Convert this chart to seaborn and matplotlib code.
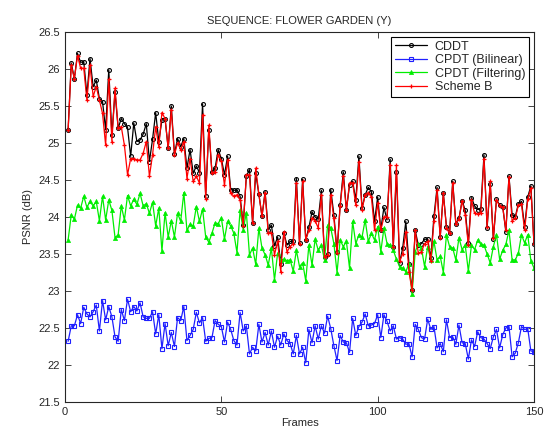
import numpy as np
import pandas as pd
import matplotlib
matplotlib.use("Agg")
import matplotlib.pyplot as plt
import seaborn as sns

frames = list(range(1, 151))

cddt = [25.18, 26.08, 25.87, 26.21, 26.09, 26.10, 25.65, 26.14, 25.76, 25.85,
        25.60, 25.56, 25.18, 25.99, 25.11, 25.69, 25.20, 25.33, 25.26, 25.21,
        24.82, 25.27, 25.02, 25.04, 25.12, 25.26, 24.75, 25.05, 25.41, 25.02,
        25.31, 25.33, 24.93, 25.50, 24.85, 25.06, 24.95, 25.06, 24.66, 24.91,
        24.59, 24.69, 24.60, 25.53, 24.29, 25.18, 24.61, 24.66, 24.91, 24.79,
        24.57, 24.82, 24.37, 24.36, 24.37, 24.28, 23.89, 24.55, 24.64, 23.92,
        24.59, 24.31, 24.01, 24.34, 23.83, 23.89, 23.61, 23.73, 23.37, 23.78,
        23.62, 23.67, 23.67, 24.52, 23.65, 24.51, 23.69, 23.86, 24.07, 24.00,
        23.97, 24.36, 23.46, 23.50, 24.37, 24.03, 23.53, 24.16, 24.61, 24.10,
        24.43, 24.48, 24.23, 24.82, 24.12, 24.30, 24.40, 24.34, 23.94, 24.27,
        23.83, 24.13, 23.96, 24.78, 23.60, 24.61, 23.38, 23.58, 23.94, 23.37,
        23.02, 23.82, 23.62, 23.64, 23.70, 23.70, 23.44, 24.01, 24.40, 23.73,
        24.32, 23.87, 23.78, 24.48, 23.91, 23.98, 24.22, 24.09, 23.65, 24.26,
        24.15, 24.10, 24.11, 24.84, 23.85, 24.45, 23.70, 24.24, 24.16, 24.14,
        23.80, 24.55, 24.03, 24.00, 24.18, 24.21, 23.87, 24.27, 24.42, 23.64]

cpdt_bilinear = [22.32, 22.53, 22.53, 22.68, 22.56, 22.78, 22.69, 22.65, 22.72, 22.81,
                 22.46, 22.87, 22.61, 22.79, 22.65, 22.38, 22.32, 22.75, 22.60, 22.89,
                 22.72, 22.79, 22.73, 22.84, 22.65, 22.63, 22.63, 22.72, 22.42, 22.68,
                 22.22, 22.56, 22.26, 22.44, 22.25, 22.64, 22.60, 22.79, 22.33, 22.40,
                 22.48, 22.71, 22.57, 22.64, 22.32, 22.36, 22.37, 22.60, 22.55, 22.52,
                 22.31, 22.58, 22.48, 22.33, 22.27, 22.71, 22.46, 22.53, 22.15, 22.24,
                 22.19, 22.55, 22.31, 22.44, 22.27, 22.46, 22.24, 22.39, 22.27, 22.42,
                 22.33, 22.29, 22.15, 22.40, 22.15, 22.24, 22.03, 22.48, 22.30, 22.53,
                 22.35, 22.53, 22.43, 22.66, 22.49, 22.26, 22.06, 22.40, 22.31, 22.30,
                 22.17, 22.63, 22.40, 22.52, 22.58, 22.69, 22.53, 22.54, 22.56, 22.68,
                 22.37, 22.68, 22.59, 22.46, 22.53, 22.35, 22.37, 22.35, 22.28, 22.29,
                 22.11, 22.55, 22.48, 22.37, 22.35, 22.62, 22.48, 22.52, 22.23, 22.29,
                 22.18, 22.61, 22.37, 22.38, 22.28, 22.54, 22.30, 22.29, 22.08, 22.34,
                 22.25, 22.45, 22.37, 22.35, 22.29, 22.22, 22.38, 22.48, 22.23, 22.41,
                 22.50, 22.52, 22.11, 22.16, 22.30, 22.52, 22.48, 22.49, 22.19, 22.18]

cpdt_filtering = [23.69, 24.03, 23.97, 24.16, 24.12, 24.28, 24.13, 24.21, 24.15, 24.21,
                  23.95, 24.28, 23.96, 24.23, 24.09, 23.72, 23.76, 24.15, 23.96, 24.29,
                  24.15, 24.24, 24.17, 24.32, 24.15, 24.18, 24.05, 24.20, 23.88, 24.12,
                  23.54, 24.06, 23.73, 23.95, 23.73, 24.05, 23.94, 24.33, 23.82, 23.90,
                  23.88, 24.14, 23.94, 24.11, 23.73, 23.66, 23.78, 23.92, 23.91, 23.99,
                  23.70, 23.94, 23.88, 23.78, 23.52, 24.09, 23.83, 24.06, 23.49, 23.58,
                  23.36, 23.85, 23.58, 23.49, 23.35, 23.58, 23.15, 23.51, 23.42, 23.43,
                  23.41, 23.42, 23.27, 23.55, 23.33, 23.38, 23.14, 23.62, 23.35, 23.70,
                  23.55, 23.62, 23.42, 23.89, 23.85, 23.64, 23.25, 23.69, 23.60, 23.67,
                  23.31, 23.94, 23.64, 23.76, 23.73, 23.96, 23.67, 23.78, 23.69, 23.87,
                  23.53, 23.85, 23.64, 23.62, 23.55, 23.43, 23.33, 23.31, 23.26, 23.37,
                  22.96, 23.53, 23.64, 23.58, 23.33, 23.60, 23.42, 23.67, 23.42, 23.47,
                  23.25, 23.76, 23.60, 23.58, 23.42, 23.72, 23.56, 23.62, 23.27, 23.62,
                  23.56, 23.69, 23.63, 23.62, 23.50, 23.38, 23.60, 23.76, 23.43, 23.55,
                  23.63, 23.82, 23.42, 23.42, 23.51, 23.76, 23.65, 23.76, 23.41, 23.31]

scheme_b = [25.18, 26.05, 25.87, 26.18, 26.01, 26.01, 25.58, 26.05, 25.63, 25.76,
            25.58, 25.40, 24.97, 25.86, 25.02, 25.74, 25.20, 25.22, 24.97, 24.57,
            24.79, 24.79, 24.77, 24.77, 24.86, 25.02, 24.55, 24.84, 25.22, 24.95,
            25.41, 25.33, 24.93, 25.45, 24.84, 25.00, 24.91, 25.02, 24.52, 24.79,
            24.48, 24.55, 24.46, 25.38, 24.25, 25.24, 24.59, 24.61, 24.84, 24.76,
            24.43, 24.77, 24.32, 24.28, 24.30, 24.23, 23.88, 24.57, 24.57, 23.92,
            24.66, 24.31, 24.01, 24.33, 23.78, 23.79, 23.49, 23.67, 23.26, 23.80,
            23.53, 23.60, 23.64, 24.46, 23.64, 24.48, 23.69, 23.82, 23.98, 23.95,
            23.85, 24.30, 23.46, 23.49, 24.30, 23.98, 23.51, 24.15, 24.55, 24.09,
            24.46, 24.46, 24.16, 24.75, 24.10, 24.30, 24.33, 24.27, 23.82, 24.19,
            23.82, 24.00, 24.00, 24.70, 23.60, 24.70, 23.40, 23.50, 23.80, 23.26,
            23.01, 23.82, 23.51, 23.53, 23.64, 23.67, 23.41, 23.94, 24.36, 23.72,
            24.32, 23.85, 23.78, 24.46, 23.91, 23.97, 24.22, 24.03, 23.62, 24.23,
            24.05, 24.04, 24.06, 24.79, 23.87, 24.48, 23.71, 24.23, 24.15, 24.13,
            23.82, 24.54, 23.95, 23.98, 24.16, 24.17, 23.82, 24.24, 24.39, 23.64]

series_names = ["CDDT", "CPDT (Bilinear)", "CPDT (Filtering)", "Scheme B"]
title = "SEQUENCE: FLOWER GARDEN (Y)"
x_ticks = [0, 50, 100, 150]
y_ticks = [21.5, 22, 22.5, 23, 23.5, 24, 24.5, 25, 25.5, 26, 26.5]
y_tick_labels = ["21.5", "22", "22.5", "23", "23.5", "24", "24.5", "25", "25.5", "26", "26.5"]

sns.set_style("ticks")
plt.rcParams["font.family"] = ["Liberation Sans", "DejaVu Sans"]

fig = plt.figure(figsize=(5.44, 4.29), dpi=100)
ax = fig.add_axes([65 / 544, 1 - 402 / 429, (534 - 65) / 544, (402 - 32) / 429])

styles = [
    (cddt, "#000000", "o", dict(markersize=2.8, markerfacecolor="none", markeredgewidth=0.8)),
    (cpdt_bilinear, "#2020ff", "s", dict(markersize=2.6, markerfacecolor="none", markeredgewidth=0.8)),
    (cpdt_filtering, "#00ee00", "^", dict(markersize=3.0, markeredgewidth=0.5)),
    (scheme_b, "#ff0000", "+", dict(markersize=3.2, markeredgewidth=0.9)),
]
for (vals, col, mk, kw), name in zip(styles, series_names):
    sns.lineplot(x=frames, y=vals, ax=ax, color=col, marker=mk, linewidth=0.9,
                 markeredgecolor=col, label=name, **kw)

ax.set_xlim(0, 150)
ax.set_ylim(21.5, 26.5)
ax.set_xticks(x_ticks)
ax.set_yticks(y_ticks)
ax.set_yticklabels(y_tick_labels)
ax.tick_params(direction="in", length=4, labelsize=8, top=True, right=True, width=0.6)
for s in ax.spines.values():
    s.set_visible(True)
    s.set_linewidth(0.8)
ax.set_xlabel("Frames", fontsize=8, labelpad=1)
ax.set_ylabel("PSNR (dB)", fontsize=8, labelpad=4)
ax.set_title(title, fontsize=8, pad=6)

leg = ax.legend(loc="upper right", fontsize=9, frameon=True, fancybox=False,
                edgecolor="black", framealpha=1, borderaxespad=0.4,
                handlelength=2.6, labelspacing=0.12, borderpad=0.3, handletextpad=0.6)
leg.get_frame().set_linewidth(0.8)

fig.savefig("out.png", dpi=100)
